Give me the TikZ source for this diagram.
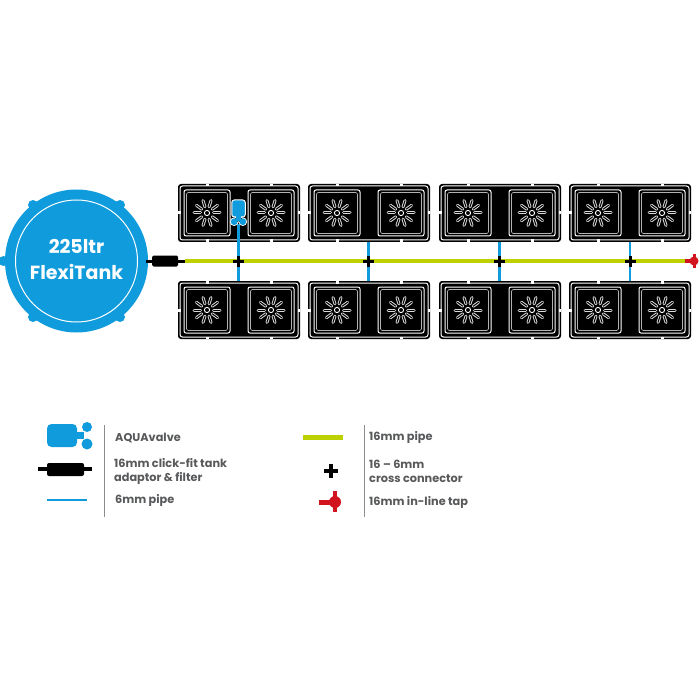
\documentclass[tikz,border=0pt]{standalone}
\usepackage{fontspec}
\setmainfont{Poppins}
\definecolor{tankblue}{HTML}{109CDC}
\definecolor{pipegreen}{HTML}{BDD000}
\definecolor{tapred}{HTML}{D2141E}
\definecolor{labelgrey}{HTML}{58595B}
\definecolor{rulegrey}{HTML}{8A8C8E}
\tikzset{
  traybox/.style={draw=none,fill=black,rounded corners=3pt,minimum width=122pt,minimum height=58pt,inner sep=0pt},
  trayline/.style={draw=white,line width=1pt,rounded corners=2.5pt},
  potline/.style={draw=white,line width=1pt,rounded corners=2pt},
  petalout/.style={draw=white!85!black,line width=3pt,line cap=round},
  petalin/.style={draw=black,line width=1pt,line cap=round},
  tick/.style={draw=white,line width=3pt},
  pipe16/.style={draw=pipegreen,line width=4pt},
  pipe6/.style={draw=tankblue,line width=2.2pt},
  fitting/.style={inner sep=0pt,minimum size=1pt},
  crossbar/.style={draw=black,line width=3pt},
  legend/.style={anchor=west,inner sep=0pt,text=labelgrey,font=\fontsize{11.3}{14}\selectfont\bfseries,align=left},
  divider/.style={draw=rulegrey,line width=1pt}
}
% One planting pot: square frame with a ten-petal rose
\newcommand{\potrose}[2]{%
  \draw[potline] (#1-23,#2-23) rectangle (#1+23,#2+23);
  \draw[draw=white!70!black,line width=0.6pt,rounded corners=1.5pt] (#1-20.5,#2-20.5) rectangle (#1+20.5,#2+20.5);
  \foreach \a in {0,36,...,324}{
    \draw[petalout] (#1,#2)++(\a:6.5) -- ++(\a:6.5);
    \draw[petalin] (#1,#2)++(\a:6.5) -- ++(\a:6.5);
  }
  \draw[draw=white,line width=0.9pt] (#1,#2) circle (2.6);
}
% Tray with two pots, centred on (x,y)
\newcommand{\trayunit}[3]{%
  \node[traybox] (#1) at (#2,#3) {};
  \draw[trayline] (#2-59,#3-27) rectangle (#2+59,#3+27);
  \foreach \dx in {-32,32}{
    \draw[tick] (#2+\dx,#3-29) -- ++(0,2.5);
    \draw[tick] (#2+\dx,#3+29) -- ++(0,-2.5);
  }
  \draw[tick] (#2-61,#3) -- ++(2.5,0);
  \draw[tick] (#2+61,#3) -- ++(-2.5,0);
  \potrose{#2-32}{#3}
  \potrose{#2+32}{#3}
}
% Cross connector drawn over a fitting node
\newcommand{\crossfit}[1]{%
  \draw[crossbar] ([xshift=-5.5pt]#1.center) -- ([xshift=5.5pt]#1.center);
  \draw[crossbar] ([yshift=-5.5pt]#1.center) -- ([yshift=5.5pt]#1.center);
}
\begin{document}
\begin{tikzpicture}[x=1pt,y=-1pt]
\useasboundingbox (0,0) rectangle (700,700);
\fill[white] (0,0) rectangle (700,700);

% Tank
\foreach \px/\py in {3.5/261,33/205,120/205,33/317,120/317}
  \fill[tankblue] (\px,\py) circle (5);
\node[circle,fill=tankblue,minimum size=143pt,inner sep=0pt] (tank) at (76.5,261) {};
\draw[white,line width=1pt] (tank.center) circle (61);
\node[text=white,font=\fontsize{19}{26.5}\selectfont\bfseries,align=center,inner sep=0pt] (tanklabel) at (76.5,259.5) {225ltr\\FlexiTank};

% Trays
\foreach \n/\cx in {a/239,b/369,c/500,d/630}{
  \trayunit{top\n}{\cx}{213}
  \trayunit{bot\n}{\cx}{310}
}

% Fittings on the main line
\coordinate (adaptorend) at (185,261);
\coordinate (tapend) at (690,261);
\node[fitting] (xa) at (238.5,261) {};
\node[fitting] (xb) at (368.5,261) {};
\node[fitting] (xc) at (499.5,261) {};
\node[fitting] (xd) at (630,261) {};

% Main pipe
\draw[pipe16] (adaptorend) -- (tapend);

% Branch pipes
\node[fitting] (valvefoot) at (238.5,224) {};
\draw[pipe6] (valvefoot.center) -- (valvefoot.center |- bota.north);
\foreach \n in {b,c,d}
  \draw[pipe6] (x\n.center |- top\n.south) -- (x\n.center |- bot\n.north);
\foreach \n in {a,b,c,d}{ \crossfit{x\n} }

% Valve on the first tray
\fill[white] (234.2,221.7) circle (4.3) (242.8,221.7) circle (4.3) (235,215) rectangle (242,222);
\fill[tankblue] (234.2,221.7) circle (3.4) (242.8,221.7) circle (3.4) (236,215) rectangle (241,221);
\node[draw=white,line width=1pt,fill=tankblue,rounded corners=2.5pt,minimum width=13.5pt,minimum height=17pt,inner sep=0pt] (valve) at (238.5,208.5) {};
\fill[tankblue] (236,215) rectangle (241,221);

% Tank adaptor
\node[fill=black,rounded corners=1.5pt,minimum width=26pt,minimum height=11pt,inner sep=0pt] (adaptor) at (165,261) {};
\draw[black,line width=3pt] (tank.east) ++(-2.5,0) -- (adaptor.west);
\draw[black,line width=3pt] (adaptor.east) -- (adaptorend);

% In-line tap
\node[circle,fill=tapred,minimum size=9pt,inner sep=0pt] (tap) at (694,261) {};
\draw[tapred,line width=4pt] (tapend) ++(-5,0) -- (tap.center);
\draw[tapred,line width=3pt] (694,254) -- (694,268);

% Key: left column
\node[fill=tankblue,rounded corners=4.5pt,minimum width=30pt,minimum height=23pt,inner sep=0pt] (keyvalve) at (62,435.5) {};
\fill[tankblue] (keyvalve.east) ++(-1,-3.5) rectangle ++(8,7);
\fill[tankblue] (87,427) circle (5) (87,444) circle (5.5);
\draw[black,line width=3.5pt] (38,469) -- (92,469);
\node[fill=black,rounded corners=2pt,minimum width=37pt,minimum height=13pt,inner sep=0pt] (keyadaptor) at (65.5,469.5) {};
\draw[pipe6] (47,500) -- (87,500);
\draw[divider] (104,425) -- (104,517);
\node[legend] (t1) at (115,437.5) {AQUAvalve};
\node[legend] (t2) at (114,471) {16mm click-fit tank\\adaptor \& filter};
\node[legend] (t3) at (115,500) {6mm pipe};

% Key: right column
\draw[draw=pipegreen,line width=5pt] (303,437) -- (343,437);
\node[fitting] (keycross) at (331,470.5) {};
\draw[black,line width=4pt] (324,470.5) -- (338,470.5);
\draw[black,line width=4pt] (331,463.5) -- (331,477.5);
\node[circle,fill=tapred,minimum size=12pt,inner sep=0pt] (keytap) at (335,502) {};
\draw[tapred,line width=5pt] (319,502) -- (keytap.center);
\draw[tapred,line width=3.5pt] (335,491) -- (335,512);
\draw[divider] (364,425) -- (364,517);
\node[legend] (t4) at (369,437.5) {16mm pipe};
\node[legend] (t5) at (369,471) {16 – 6mm\\cross connector};
\node[legend] (t6) at (369,502) {16mm in-line tap};
\end{tikzpicture}
\end{document}
